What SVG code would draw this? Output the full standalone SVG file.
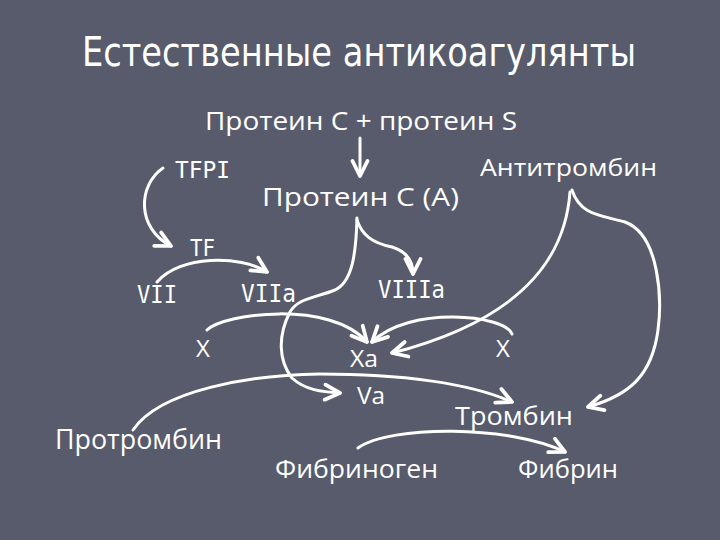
<svg xmlns="http://www.w3.org/2000/svg" width="720" height="540" viewBox="0 0 720 540">
<defs>
<style>
.t{fill:#fff;font-family:"Open Sans","DejaVu Sans",sans-serif;}
.m{fill:#fff;font-family:"DejaVu Sans Mono","Liberation Mono",monospace;}
.c{fill:none;stroke:#fff;stroke-width:3;stroke-linecap:round;}
</style>
<marker id="ah" markerUnits="userSpaceOnUse" markerWidth="20" markerHeight="20" viewBox="-14 -8 16 16" refX="0" refY="0" orient="auto">
<path d="M-12,-6 L0,0 L-12,6" fill="none" stroke="#fff" stroke-width="3" stroke-linecap="round" stroke-linejoin="round"/>
</marker>
</defs>
<rect width="720" height="540" fill="#575b6b"/>
<text x="82" y="66" font-family="'DejaVu Sans Condensed','Liberation Sans',sans-serif" font-size="41" fill="#fff" textLength="554" lengthAdjust="spacingAndGlyphs">Естественные антикоагулянты</text>
<g id="pcps"><text class="t" x="205" y="130" font-size="25" textLength="312" lengthAdjust="spacingAndGlyphs">Протеин С + протеин S</text></g>
<g id="tfpi"><text class="m" x="175" y="178" font-size="23" textLength="55" lengthAdjust="spacingAndGlyphs">TFPI</text></g>
<g id="pca"><text class="t" x="262" y="206" font-size="25" textLength="197" lengthAdjust="spacingAndGlyphs">Протеин С (А)</text></g>
<g id="at"><text class="t" x="480" y="176" font-size="24" textLength="177" lengthAdjust="spacingAndGlyphs">Антитромбин</text></g>
<g id="tf"><text class="m" x="190" y="256" font-size="23" textLength="25" lengthAdjust="spacingAndGlyphs">TF</text></g>
<g id="vii"><text class="m" x="137" y="303" font-size="24" textLength="40" lengthAdjust="spacingAndGlyphs">VII</text></g>
<g id="viia"><text class="m" x="241" y="302" font-size="24" textLength="55" lengthAdjust="spacingAndGlyphs">VIIa</text></g>
<g id="viiia"><text class="m" x="378" y="298" font-size="24" textLength="67" lengthAdjust="spacingAndGlyphs">VIIIa</text></g>
<g id="x1"><text class="t" x="196" y="357" font-size="24">X</text></g>
<g id="xa"><text class="t" x="350" y="367" font-size="24" textLength="28" lengthAdjust="spacingAndGlyphs">Xa</text></g>
<g id="x2"><text class="t" x="496" y="357" font-size="24">X</text></g>
<g id="va"><text class="t" x="357" y="404" font-size="24" textLength="28" lengthAdjust="spacingAndGlyphs">Va</text></g>
<g id="thr"><text class="t" x="455" y="425" font-size="26" textLength="118" lengthAdjust="spacingAndGlyphs">Тромбин</text></g>
<g id="prothr"><text class="t" x="55" y="449" font-size="27" textLength="167" lengthAdjust="spacingAndGlyphs">Протромбин</text></g>
<g id="fbg"><text class="t" x="275" y="478" font-size="26" textLength="163" lengthAdjust="spacingAndGlyphs">Фибриноген</text></g>
<g id="fbr"><text class="t" x="518" y="478" font-size="26" textLength="100" lengthAdjust="spacingAndGlyphs">Фибрин</text></g>
<g id="connectors" class="c">
<path class="c" d="M360,138 L360,176" marker-end="url(#ah)"/>
<path class="c" d="M163,168 C138,185 136,228 171,246" marker-end="url(#ah)"/>
<path class="c" d="M157,282 C180,255 240,255 267,272" marker-end="url(#ah)"/>
<path class="c" d="M357,218 C356,255 352,282 335,290 C315,298 298,298 290,312 C278,335 278,360 292,378 C305,390 322,392 340,393" marker-end="url(#ah)"/>
<path class="c" d="M357,220 C362,235 372,243 392,247 C408,252 413,262 413,274" marker-end="url(#ah)"/>
<path class="c" d="M207,330 C225,313 330,300 367,342" marker-end="url(#ah)"/>
<path class="c" d="M512,334 C505,315 410,305 372,342" marker-end="url(#ah)"/>
<path class="c" d="M570,192 C565,260 520,320 392,353" marker-end="url(#ah)"/>
<path class="c" d="M572,190 C580,215 600,215 625,222 C660,235 662,300 658,330 C652,375 630,395 588,407" marker-end="url(#ah)"/>
<path class="c" d="M133,430 C160,390 250,375 320,374 C400,374 470,383 512,402" marker-end="url(#ah)"/>
<path class="c" d="M358,448 C390,425 510,425 565,452" marker-end="url(#ah)"/>
</g>
</svg>
